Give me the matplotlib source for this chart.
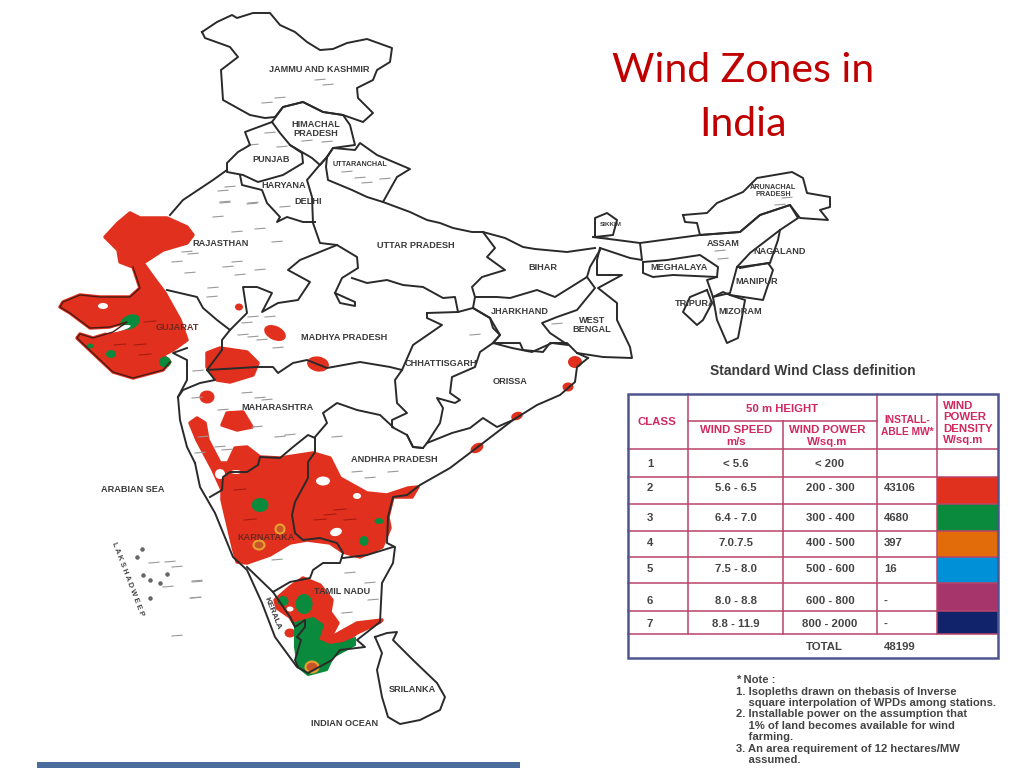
"""Wind zones of India: map sketch, class table and notes, in image pixel units."""
import matplotlib
matplotlib.use("Agg")
import matplotlib.pyplot as plt
from matplotlib.patches import Ellipse, Polygon, Rectangle

# ---- map data as (x, y) pixels ----
jammu_kashmir = [(202,32),(217,22),(232,15),(237,18),(253,13),(270,13),(280,25),(295,32),(307,42),(320,50),(333,49),
                 (347,43),(367,39),(392,48),(390,62),(377,70),(373,80),(357,88),(358,98),(373,113),(363,122),(343,115),
                 (323,112),(303,102),(283,107),(275,117),(265,118),(250,115),(223,100),(221,70),(238,57),(230,47),(205,38),(202,32)]
himachal = [(272,122),(283,107),(303,102),(323,112),(343,115),(350,125),(355,145),(333,148),(327,157),(320,165),(312,158),(290,145),(280,133),(272,122)]
punjab = [(272,122),(245,132),(250,145),(238,152),(227,163),(227,172),(243,175),(258,182),(283,175),(303,163),(302,153),(290,145)]
uttaranchal = [(327,157),(333,148),(355,150),(360,143),(377,155),(410,169),(397,177),(388,193),(383,202),(367,197),(352,190),(328,180),(326,167),(327,157)]
haryana = [(240,175),(242,185),(262,190),(267,203),(280,217),(277,222),(287,217),(303,222),(315,222)]
up_west = [(327,157),(318,167),(307,180),(312,197),(313,223),(320,243),(337,245),(357,257),(358,268),(342,278),(335,293),(355,302),(355,306),(340,303),(335,293)]
up_south = [(352,278),(367,283),(387,280),(403,285),(423,287),(443,298),(455,297),(458,312)]
up_north = [(383,202),(410,212),(427,220),(440,223),(453,228),(472,232),(483,232),(505,238),(523,247),(535,249),(567,252),(595,248)]
rajasthan_west = [(227,170),(213,180),(183,200),(170,215)]
rajasthan_south = [(167,290),(197,297),(203,308),(217,320),(230,330),(237,323),(247,313),(243,287),(257,287),(272,293),(262,312),(278,303),
                   (298,300),(310,282),(288,270),(300,260),(337,245)]
gujarat_east = [(230,330),(222,340),(222,350),(207,370),(215,380),(200,383),(183,390),(178,397)]
gulf_coast = [(187,348),(173,353),(187,360),(187,380),(178,397),(180,420),(187,447),(195,463)]
mp_south = [(207,370),(257,367),(273,367),(278,373),(293,363),(307,360),(327,368),(360,362),(390,367),(402,370)]
bihar = [(483,232),(495,248),(487,257),(505,270),(482,277),(472,287),(475,297),(473,308)]
bihar_south = [(475,297),(497,297),(510,298),(537,290),(555,297),(587,277),(590,267),(600,250)]
jharkhand_west = [(473,308),(490,318),(493,328),(500,335),(493,343)]
jharkhand_east = [(587,277),(595,288),(577,310),(557,317),(542,323),(550,333),(568,345),(552,343),(532,352),(512,348),(493,343)]
chhattisgarh = [(427,313),(458,312),(473,308),(490,318),(500,335),(493,343),(480,352),(475,367),(452,377),(450,393),(460,400),(455,403),
                (437,398),(443,408),(440,423),(427,443),(423,448),(413,447),(407,435),(392,427),(392,420),(407,413),(397,403),(395,380),
                (402,370),(413,345),(442,325),(427,318),(427,313)]
west_bengal = [(600,248),(597,260),(597,275),(622,275),(598,288),(617,303),(617,320),(630,347),(632,358),(603,357),(577,353)]
sikkim = [(595,237),(595,218),(607,213),(617,220),(613,235),(595,237)]
duars = [(593,237),(617,240),(640,243),(642,260),(630,258),(600,248)]
assam = [(640,243),(700,235),(740,232),(760,215),(790,205),(798,218),(780,230),(750,253),(737,267),(730,293),(713,297),(707,280),(717,277)]
arunachal = [(683,215),(707,213),(717,203),(743,192),(757,178),(792,172),(803,178),(807,193),(830,197),(830,207),(820,210),(828,220),(800,218),
             (790,205),(760,215),(740,232),(700,235),(697,223),(685,222),(683,215)]
nagaland = [(780,230),(778,240),(770,263),(740,267),(737,267)]
manipur = [(740,268),(768,263),(773,270),(763,300),(730,295)]
mizoram = [(713,297),(723,292),(730,295),(745,300),(742,317),(738,338),(727,343),(717,320),(713,297)]
tripura = [(707,290),(712,303),(703,320),(697,325),(683,312),(690,297),(707,290)]
meghalaya = [(643,262),(667,260),(700,255),(718,267),(717,277),(673,275),(653,277),(643,273),(643,262)]
orissa_north = [(493,343),(503,343),(520,343),(523,350),(543,352),(550,343),(567,343),(577,353),(588,358)]
orissa_south = [(427,443),(452,433),(470,428),(483,418),(497,427),(513,420)]
east_coast = [(588,358),(577,367),(575,382),(560,395),(537,405),(513,420),(483,443),(450,468),(420,485),(407,495),(393,497),(388,517),(387,543),
              (395,547),(393,563),(382,583),(380,622),(357,640),(365,647),(340,650),(332,660),(308,673),(297,667),(275,637),(262,603),(247,570),
              (233,557),(215,513),(200,487),(195,463)]
karnataka_north = [(210,497),(222,490),(223,477),(230,472),(247,472),(258,465),(260,457),(280,458),(293,447),(308,435),(315,438),(315,452),
                   (308,462),(308,478),(295,502),(292,515),(295,533),(303,540),(320,538),(337,543),(343,553),(340,563),(323,563),(313,570),
                   (310,578),(290,582),(273,592),(247,567)]
ap_south = [(343,558),(367,555),(393,547)]
maharashtra_east = [(315,437),(327,423),(323,413),(337,403),(357,410),(380,415),(393,427)]
andhra_north = [(407,435),(413,447),(423,448)]
kerala_east = [(273,592),(290,617),(295,627),(305,620),(305,627),(297,637),(301,640),(295,660),(298,667)]
sri_lanka = [(375,637),(387,633),(397,632),(393,640),(413,660),(437,683),(445,697),(440,710),(420,720),(400,724),(388,717),(382,697),(377,670),(382,653),(375,637)]
boundaries = [jammu_kashmir, himachal, punjab, uttaranchal, haryana, up_west, up_south, up_north, rajasthan_west, rajasthan_south,
              gujarat_east, gulf_coast, mp_south, bihar, bihar_south, jharkhand_west, jharkhand_east, chhattisgarh, west_bengal, sikkim,
              duars, assam, arunachal, nagaland, manipur, mizoram, tripura, meghalaya, orissa_north, orissa_south, east_coast,
              karnataka_north, ap_south, maharashtra_east, andhra_north, kerala_east, sri_lanka]

# wind class zones
red_northwest = [(105,237),(118,223),(130,213),(140,218),(167,218),(187,227),(193,235),(187,243),(163,250),(143,263),(153,277),(165,293),(180,320),
                 (187,340),(173,350),(163,355),(170,362),(163,370),(133,378),(113,372),(97,357),(77,338),(80,334),(93,338),(113,332),(127,322),
                 (110,327),(90,328),(70,313),(60,307),(63,302),(80,295),(100,297),(130,297),(140,288),(133,267),(120,262),(118,250),(105,237)]
red_malwa = [(207,353),(220,348),(247,352),(258,363),(253,375),(230,382),(217,380),(207,367)]
red_pune = [(222,425),(227,413),(243,412),(252,427),(237,430)]
red_deccan = [(190,423),(197,418),(205,423),(208,440),(220,463),(228,463),(235,448),(247,447),(260,457),(280,458),(313,453),(330,458),(340,478),
              (367,493),(387,495),(408,488),(418,487),(412,497),(393,497),(388,517),(390,528),(382,547),(360,557),(343,552),(330,543),(307,540),
              (290,543),(270,555),(247,563),(237,562),(233,547),(222,500),(222,490),(213,470),(197,440),(190,423)]
red_tamil = [(275,600),(290,587),(303,578),(320,585),(332,600),(330,612),(338,623),(330,638),(357,623),(382,620),(380,622),(357,633),(343,643),
             (320,645),(313,642),(295,625),(290,617),(277,608)]
green_south = [(295,633),(295,623),(313,618),(323,625),(318,640),(330,645),(343,643),(355,638),(355,645),(333,657),(327,670),(308,675),(298,667),(295,647)]
red_polygons = [red_northwest, red_malwa, red_pune, red_deccan, red_tamil]
# (x, y, width, height, angle)
red_blobs = [(239,307,8,7,0),(275,333,23,14,25),(318,364,22,15,10),(207,397,15,13,0),(575,362,14,12,0),(568,387,11,9,0),
             (517,416,12,8,-20),(477,448,14,9,-30),(290,633,11,9,0)]
green_blobs = [(130,322,21,14,-25),(90,346,7,5,0),(111,354,10,8,0),(165,362,12,11,0),(260,505,17,14,0),(379,521,9,6,0),(364,541,9,10,0),
               (283,601,11,10,0),(304,604,17,20,0)]
white_holes = [(103,306,10,6,0),(118,329,26,5,-14),(220,474,10,10,0),(236,472,10,4,0),(323,481,14,9,0),(357,496,8,6,0),(336,532,12,8,-15),(290,609,7,5,0)]
orange_rings = [(280,529,9,9,0),(259,545,11,9,0),(312,667,13,11,0)]

# towns and rivers printed as short grey strokes
grey_strokes = [(223,191),(225,203),(252,204),(218,217),(237,232),(260,229),(277,242),(187,252),(177,262),(193,254),(237,262),(228,267),(260,270),
                (190,273),(213,288),(212,297),(240,275),(253,317),(270,317),(247,323),(243,335),(253,337),(262,340),(278,348),(198,371),(247,393),
                (260,398),(197,398),(223,410),(267,400),(280,437),(257,427),(290,435),(337,437),(203,437),(220,447),(200,453),(227,450),(280,98),
                (267,103),(320,80),(328,85),(307,141),(327,142),(253,145),(282,147),(270,133),(347,172),(360,178),(385,179),(367,183),(230,187),
                (225,202),(253,203),(285,207),(393,472),(370,478),(357,472),(197,581),(195,598),(373,600),(347,613),(350,573),(370,583),(277,560),
                (557,324),(475,335),(720,251),(723,259),(780,205),(787,198),(603,238),(154,563),(170,562),(177,567),(197,582),(196,598),(177,636),(168,587)]
dark_red_strokes = [(150,322),(140,345),(120,345),(145,355),(330,515),(340,510),(350,520),(240,490),(320,520),(250,520)]
island_dots = [(142,549),(137,557),(143,575),(150,580),(160,583),(150,598),(167,574)]

map_labels = ["JAMMU AND KASHMIR","HIMACHAL\nPRADESH","PUNJAB","UTTARANCHAL","HARYANA","DELHI","RAJASTHAN","UTTAR PRADESH","BIHAR","ASSAM","NAGALAND",
              "MEGHALAYA","MANIPUR","TRIPURA","MIZORAM","ARUNACHAL\nPRADESH","SIKKIM","JHARKHAND","WEST\nBENGAL","CHHATTISGARH","ORISSA","MADHYA PRADESH",
              "GUJARAT","MAHARASHTRA","ANDHRA PRADESH","KARNATAKA","TAMIL NADU","SRILANKA","INDIAN OCEAN","ARABIAN SEA"]
map_label_x = [319,316,271,360,284,308,221,416,543,723,780,679,757,695,740,773,611,520,592,441,510,344,177,277,394,266,342,412,345,133]
map_label_y = [70,129,159,164,186,201,244,245,268,243,252,268,282,303,311,191,225,312,325,363,382,337,328,408,459,537,592,689,723,490]

# ---- class table ----
wind_class = ["1","2","3","4","5","6","7"]
wind_speed = ["< 5.6","5.6 - 6.5","6.4 - 7.0","7.0.7.5","7.5 - 8.0","8.0 - 8.8","8.8 - 11.9"]
wind_power = ["< 200","200 - 300","300 - 400","400 - 500","500 - 600","600 - 800","800 - 2000"]
installable = ["","43106","4680","397","16","-","-"]
swatches = ["white","#e0301e","#0a8a3c","#e36c0a","#0090d8","#a5356b","#10236b"]
row_edges = [449,477,504,531,557,583,611,634]
row_text_y = [464,488,518,543,569,601,624]
note_lines = ["* Note :","1. Isopleths drawn on thebasis of Inverse","    square interpolation of WPDs among stations.",
              "2. Installable power on the assumption that","    1% of land becomes available for wind","    farming.",
              "3. An area requirement of 12 hectares/MW","    assumed."]
note_y = [680,692,703,714,726,737,749,760]

SANS = "Liberation Sans"
INK = "#444444"
PINK = "#d0285f"
RULE = "#bb4468"
RED = "#e1301e"
GREEN = "#0a8a3c"

fig = plt.figure(figsize=(10.24, 7.68), dpi=100)
ax = fig.add_axes([0, 0, 1, 1])
ax.set_xlim(0, 1024)
ax.set_ylim(768, 0)
ax.axis("off")

# zones go under the boundaries
for poly in red_polygons:
    ax.add_patch(Polygon(poly, closed=True, fc=RED, ec=RED, lw=2.5, joinstyle="round", zorder=1))
ax.add_patch(Polygon(green_south, closed=True, fc=GREEN, ec=GREEN, lw=1.5, joinstyle="round", zorder=1.5))
for x, y, w, h, a in red_blobs:
    ax.add_patch(Ellipse((x, y), w, h, angle=a, fc=RED, ec="none", zorder=1))
for x, y, w, h, a in green_blobs:
    ax.add_patch(Ellipse((x, y), w, h, angle=a, fc=GREEN, ec="none", zorder=2))
for x, y, w, h, a in white_holes:
    ax.add_patch(Ellipse((x, y), w, h, angle=a, fc="white", ec="none", zorder=2))
for x, y, w, h, a in orange_rings:
    ax.add_patch(Ellipse((x, y), w, h, angle=a, fc="#c8552a", ec="#e8a030", lw=1.5, zorder=2))

for line in boundaries:
    xs, ys = zip(*line)
    ax.plot(xs, ys, color="#2a2a2a", lw=1.4, solid_joinstyle="round", zorder=3)
xs, ys = zip(*red_northwest[16:36])
ax.plot(xs, ys, color="#4a1a12", lw=1.0, zorder=3)

for x, y in grey_strokes:
    ax.plot([x - 5, x + 5], [y, y - 0.8], color="#999999", lw=0.8, zorder=2.5)
for x, y in dark_red_strokes:
    ax.plot([x - 6, x + 6], [y, y - 1], color="#a81c10", lw=0.8, zorder=2.5)
ax.scatter([p[0] for p in island_dots], [p[1] for p in island_dots], s=5, color="#666666", zorder=3)

for name, x, y in zip(map_labels, map_label_x, map_label_y):
    size = 5.2 if name in ("UTTARANCHAL", "ARUNACHAL\nPRADESH") else 4.6 if name == "SIKKIM" else 6.6
    color = "#6a2a20" if name in ("GUJARAT", "KARNATAKA") else "#3a3a3a"
    ax.text(x, y, name, ha="center", va="center", family=SANS, fontweight="bold", fontsize=size,
            color=color, linespacing=1.0, zorder=4)
ax.text(272, 613, "KERALA", ha="center", va="center", family=SANS, fontweight="bold", fontsize=6,
        color="#3a3a3a", rotation=-68, zorder=4)
ax.text(128, 579, "L A K S H A D W E E P", ha="center", va="center", family=SANS, fontweight="bold", fontsize=5.4,
        color="#444444", rotation=-69, zorder=4)

# title
ax.text(743, 70, "Wind Zones in", ha="center", va="center", family="Lato", fontsize=29.5, color="#c00000")
ax.text(743, 124, "India", ha="center", va="center", family="Lato", fontsize=29.5, color="#c00000")

# table
ax.text(813, 371, "Standard Wind Class definition", ha="center", va="center", family=SANS,
        fontweight="bold", fontsize=10, color="#3a3a3a")
for i, color in enumerate(swatches):
    ax.add_patch(Rectangle((937, row_edges[i]), 61, row_edges[i + 1] - row_edges[i], fc=color, ec="none", zorder=1))
for y in row_edges:
    ax.plot([628, 998], [y, y], color=RULE, lw=1.1, zorder=2)
ax.plot([688, 877], [421, 421], color=RULE, lw=1.1, zorder=2)
for x in (688, 877, 937):
    ax.plot([x, x], [394, 634], color=RULE, lw=1.1, zorder=2)
ax.plot([783, 783], [421, 634], color=RULE, lw=1.1, zorder=2)
ax.add_patch(Rectangle((628, 394), 370, 264, fc="none", ec="#4f5590", lw=1.8, zorder=3))

header_cells = [(657, 422, "CLASS"), (782, 409, "50 m HEIGHT"), (736, 436, "WIND SPEED\nm/s"), (827, 436, "WIND POWER\nW/sq.m")]
for x, y, text in header_cells:
    ax.text(x, y, text, ha="center", va="center", family=SANS, fontweight="bold", fontsize=8.2,
            color=PINK, linespacing=1.2)
ax.text(907, 426, "INSTALL-\nABLE MW*", ha="center", va="center", family=SANS, fontweight="bold", fontsize=7.4,
        color=PINK, linespacing=1.3)
ax.text(943, 423, "WIND\nPOWER\nDENSITY\nW/sq.m", ha="left", va="center", family=SANS, fontweight="bold",
        fontsize=8.2, color=PINK, linespacing=1.2)
for i, y in enumerate(row_text_y):
    ax.text(650, y, wind_class[i], ha="center", va="center", family=SANS, fontweight="bold", fontsize=8.2, color=INK)
    ax.text(736, y, wind_speed[i], ha="center", va="center", family=SANS, fontweight="bold", fontsize=8.2, color=INK)
    ax.text(830, y, wind_power[i], ha="center", va="center", family=SANS, fontweight="bold", fontsize=8.2, color=INK)
    ax.text(884, y, installable[i], ha="left", va="center", family=SANS, fontweight="bold", fontsize=8.2, color=INK)
ax.text(824, 647, "TOTAL", ha="center", va="center", family=SANS, fontweight="bold", fontsize=8.2, color=INK)
ax.text(884, 647, "48199", ha="left", va="center", family=SANS, fontweight="bold", fontsize=8.2, color=INK)

# notes
for y, text in zip(note_y, note_lines):
    ax.text(736, y, text, ha="left", va="center", family=SANS, fontweight="bold", fontsize=8.1, color="#444444")

# strip of the slide footer
ax.add_patch(Rectangle((37, 762), 483, 6, fc="#4a6c9c", ec="none"))

fig.savefig("out.png", dpi=100)
plt.close(fig)
